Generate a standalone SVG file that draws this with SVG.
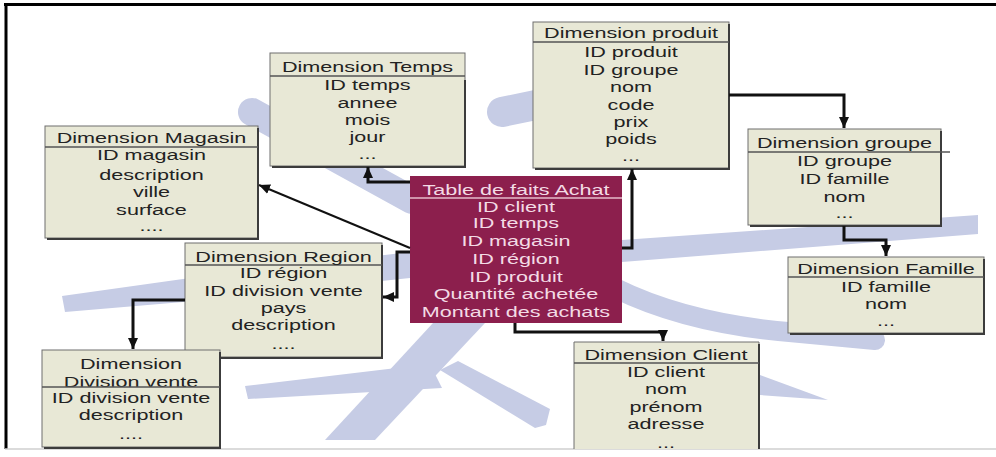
<svg xmlns="http://www.w3.org/2000/svg" width="996" height="457" viewBox="0 0 996 457">
<style>
.bg{fill:#c6cce5;stroke:none}
.bgs{fill:none;stroke:#c6cce5;stroke-linecap:round}
.box{fill:#e8e8d6;stroke:#6e6e6e;stroke-width:1}
.sh{fill:none;stroke:#3c3c3c;stroke-width:2}
.hl{stroke:#555;stroke-width:1.5}
.fact{fill:#8c1f4d}
.fhl{stroke:#e6bccb;stroke-width:1.5}
text{font-family:"Liberation Sans",Arial,sans-serif;font-size:15px;text-anchor:middle}
.t text{fill:#222}
.ft text{fill:#f3dbe5}
.c{fill:none;stroke:#111;stroke-width:3}
.cd{fill:none;stroke:#111;stroke-width:2}
</style>
<defs>
<marker id="ah" markerUnits="userSpaceOnUse" markerWidth="12" markerHeight="12" refX="11" refY="5" orient="auto">
<path d="M0,0 L11,5 L0,10 z" fill="#111"/>
</marker>
</defs>
<rect x="0" y="0" width="996" height="457" fill="#ffffff"/>
<g id="background">
<path class="bgs" d="M252,112 L412,200" stroke-width="28"/>
<polygon class="bg" points="62,296 183,279 410,252 410,278 183,302 65,312"/>
<polygon class="bg" points="245,386 430,364 442,388 248,399"/>
<polygon class="bg" points="433,323 485,323 375,440 325,440"/>
<polygon class="bg" points="440,370 458,361 550,409 546,425 535,428"/>
<polygon class="bg" points="622,240 978,215 978,234 622,262"/>
<path class="bgs" d="M615,288 Q690,325 800,333 L875,340" stroke-width="20"/>
<polygon class="bg" points="590,352 760,375 828,400 760,395 590,372"/>
<path class="bgs" d="M502,112 L560,100" stroke-width="30"/>
</g>
<g id="frame">
<line x1="4" y1="4.5" x2="996" y2="4.5" stroke="#000" stroke-width="3"/>
<line x1="6" y1="3" x2="6" y2="449" stroke="#000" stroke-width="3"/>
<line x1="5" y1="449" x2="996" y2="449" stroke="#cfcfcf" stroke-width="1.5"/>
</g>
<g id="node-temps">
<rect class="box" x="270" y="53" width="195" height="113"/>
<polyline class="sh" points="465,80 465,167 272,167"/>
<line class="hl" x1="270" y1="76" x2="465" y2="76"/>
<g class="t" transform="translate(367.5,0) scale(1.44,1)">
<text y="72">Dimension Temps</text>
<text y="90">ID temps</text>
<text y="108">annee</text>
<text y="125">mois</text>
<text y="142">jour</text>
<text y="159">...</text>
</g>
</g>
<g id="node-magasin">
<rect class="box" x="45" y="126" width="213" height="112"/>
<polyline class="sh" points="258,128 258,239 47,239"/>
<line class="hl" x1="45" y1="147" x2="258" y2="147"/>
<g class="t" transform="translate(151.5,0) scale(1.44,1)">
<text y="143">Dimension Magasin</text>
<text y="160">ID magasin</text>
<text y="180">description</text>
<text y="197">ville</text>
<text y="215">surface</text>
<text y="231">....</text>
</g>
</g>
<g id="node-produit">
<rect class="box" x="533" y="22" width="196" height="146"/>
<polyline class="sh" points="729,24 729,169 535,169"/>
<line class="hl" x1="533" y1="42" x2="729" y2="42"/>
<g class="t" transform="translate(631,0) scale(1.44,1)">
<text y="38">Dimension produit</text>
<text y="57">ID produit</text>
<text y="75">ID groupe</text>
<text y="92">nom</text>
<text y="110">code</text>
<text y="127">prix</text>
<text y="144">poids</text>
<text y="161">...</text>
</g>
</g>
<g id="node-groupe">
<rect class="box" x="748" y="129" width="193" height="96"/>
<polyline class="sh" points="941,131 941,226 750,226"/>
<line class="hl" x1="748" y1="152" x2="950" y2="152"/>
<g class="t" transform="translate(844.5,0) scale(1.44,1)">
<text y="148">Dimension groupe</text>
<text y="166">ID groupe</text>
<text y="184">ID famille</text>
<text y="202">nom</text>
<text y="218">...</text>
</g>
</g>
<g id="node-famille">
<rect class="box" x="788" y="257" width="196" height="76"/>
<polyline class="sh" points="984,259 984,334 790,334"/>
<line class="hl" x1="788" y1="277" x2="984" y2="277"/>
<g class="t" transform="translate(886,0) scale(1.44,1)">
<text y="274">Dimension Famille</text>
<text y="292">ID famille</text>
<text y="309">nom</text>
<text y="326">...</text>
</g>
</g>
<g id="node-client">
<path class="box" d="M574,449 V342 H759 V449"/>
<polyline class="sh" points="759,344 759,449"/>
<line class="hl" x1="574" y1="363" x2="759" y2="363"/>
<g class="t" transform="translate(666,0) scale(1.44,1)">
<text y="360">Dimension Client</text>
<text y="377">ID client</text>
<text y="394">nom</text>
<text y="412">prénom</text>
<text y="429">adresse</text>
<text y="448">...</text>
</g>
</g>
<g id="node-region">
<rect class="box" x="185" y="243" width="197" height="114"/>
<polyline class="sh" points="382,245 382,358 187,358"/>
<line class="hl" x1="185" y1="265" x2="382" y2="265"/>
<g class="t" transform="translate(283.5,0) scale(1.44,1)">
<text y="262">Dimension Region</text>
<text y="278">ID région</text>
<text y="296">ID division vente</text>
<text y="313">pays</text>
<text y="330">description</text>
<text y="349">....</text>
</g>
</g>
<g id="node-division">
<rect class="box" x="42" y="350" width="178" height="97"/>
<polyline class="sh" points="220,352 220,448 44,448"/>
<g class="t" transform="translate(131,0) scale(1.44,1)">
<text y="369">Dimension</text>
<text y="387">Division vente</text>
<text y="403">ID division vente</text>
<text y="420">description</text>
<text y="439">....</text>
</g>
<line class="hl" x1="42" y1="387" x2="220" y2="387"/>
</g>
<g id="node-fact">
<rect class="fact" x="410" y="176" width="212" height="147"/>
<line class="fhl" x1="410" y1="198" x2="622" y2="198"/>
<g class="ft" transform="translate(516,0) scale(1.44,1)">
<text y="195">Table de faits Achat</text>
<text y="212">ID client</text>
<text y="228">ID temps</text>
<text y="246">ID magasin</text>
<text y="264">ID région</text>
<text y="282">ID produit</text>
<text y="299">Quantité achetée</text>
<text y="317">Montant des achats</text>
</g>
</g>
<g id="connectors">
<path class="c" d="M410,182 H368 V167" marker-end="url(#ah)"/>
<path class="cd" d="M410,248 L259,185" marker-end="url(#ah)"/>
<path class="c" d="M410,252 H397 V297 H383" marker-end="url(#ah)"/>
<path class="c" d="M185,300 H133 V349" marker-end="url(#ah)"/>
<path class="c" d="M622,248 H632 V169" marker-end="url(#ah)"/>
<path class="c" d="M729,95 H844 V128" marker-end="url(#ah)"/>
<path class="c" d="M844,226 V240 H886 V256" marker-end="url(#ah)"/>
<path class="c" d="M515,323 V332 H663 V341" marker-end="url(#ah)"/>
</g>
</svg>
